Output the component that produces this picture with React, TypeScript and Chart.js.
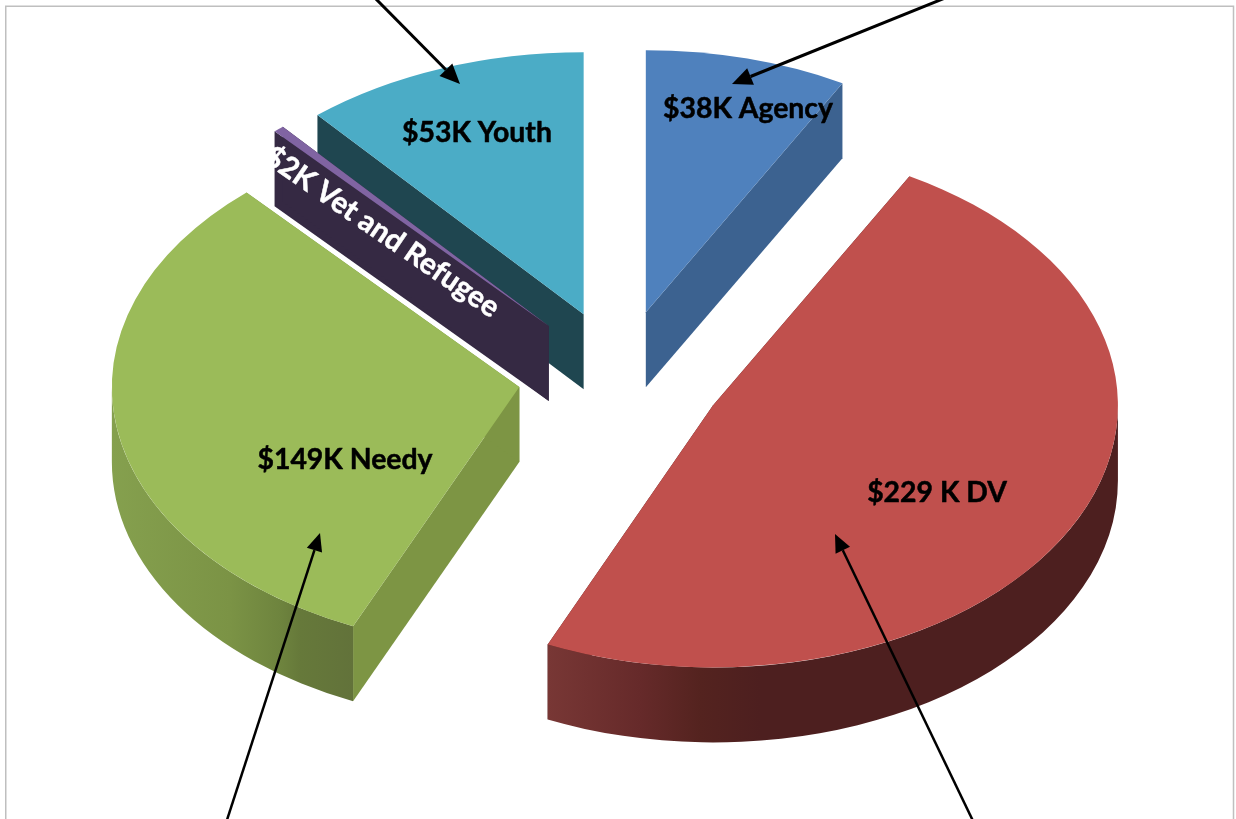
import React, { useEffect, useRef } from "react";
import { Chart, registerables } from "chart.js";

Chart.register(...registerables);

const categories = ["$38K Agency", "$229 K DV", "$149K Needy", "$2K Vet and Refugee", "$53K Youth"];
const amounts = [38, 229, 149, 2, 53];
const faceColors = ["#4f81bd", "#c0504d", "#9bbb59", "#8064a2", "#4bacc6"];
const cutColors = ["#3c6290", "#4d1f1f", "#7d9544", "#352943", "#1f4650"];

const SQUASH = 0.647;
const DEPTH = 75;
const EXPLODE = 105;
const paintOrder = [0, 4, 3, 2, 1];
const nudges = [
  [0.5, 3],
  [0, 0],
  [4, 1.5],
  [-1, 2],
  [1, 3],
];
const widen = [1, 1, 1.006, 1.011, 1.012];

const wallStops: Record<number, [number, string][]> = {
  1: [[548, "#783735"], [640, "#662a2a"], [700, "#54231f"], [760, "#4d1f1f"], [1118, "#4d1f1f"]],
  2: [[112, "#85a04e"], [230, "#7b9345"], [280, "#6e843e"], [300, "#66793a"], [355, "#62723a"]],
};

const labelSpots = [
  { x: 748, y: 109, angle: 0, color: "#000", size: 28.4 },
  { x: 937, y: 493, angle: 0, color: "#000", size: 28.4 },
  { x: 345, y: 460, angle: 0, color: "#000", size: 28.4 },
  { x: 382, y: 232, angle: 34.5, color: "#fff", size: 29.6 },
  { x: 477, y: 133, angle: 0, color: "#000", size: 28.4 },
];

const arrows = [
  { from: [373, -4], to: [460, 84], width: 3, len: 20, half: 9 },
  { from: [950, -4], to: [732, 84], width: 3, len: 20, half: 9 },
  { from: [226, 823], to: [320, 533], width: 2.5, len: 18, half: 8 },
  { from: [974, 823], to: [835, 534], width: 2.5, len: 18, half: 8 },
];

const pie3d = {
  id: "pie3d",
  beforeDatasetDraw(chart: any) {
    const ctx = chart.ctx;
    const arcs = chart.getDatasetMeta(0).data;
    paintOrder.forEach((i) => {
      const arc = arcs[i];
      const { x, y, startAngle, endAngle, outerRadius: R } = arc;
      const mid = (startAngle + endAngle) / 2;
      const px = x + Math.cos(mid) * EXPLODE + nudges[i][0];
      const py = y + Math.sin(mid) * EXPLODE * SQUASH + nudges[i][1];
      const rx = R * widen[i];
      const ry = R * SQUASH;

      // straight cut walls
      ctx.fillStyle = cutColors[i];
      [startAngle, endAngle].forEach((a: number) => {
        const ex = px + Math.cos(a) * rx;
        const ey = py + Math.sin(a) * ry;
        ctx.beginPath();
        ctx.moveTo(px, py);
        ctx.lineTo(ex, ey);
        ctx.lineTo(ex, ey + DEPTH);
        ctx.lineTo(px, py + DEPTH);
        ctx.closePath();
        ctx.fill();
      });

      // curved outer wall, only the part that faces the viewer
      const a0 = Math.max(startAngle, 0);
      const a1 = Math.min(endAngle, Math.PI);
      if (a1 > a0 && wallStops[i]) {
        const stops = wallStops[i];
        const first = stops[0][0];
        const last = stops[stops.length - 1][0];
        const g = ctx.createLinearGradient(first, 0, last, 0);
        stops.forEach(([sx, c]) => g.addColorStop((sx - first) / (last - first), c));
        ctx.fillStyle = g;
        ctx.beginPath();
        ctx.ellipse(px, py, rx, ry, 0, a0, a1);
        ctx.ellipse(px, py + DEPTH, rx, ry, 0, a1, a0, true);
        ctx.closePath();
        ctx.fill();
      }

      // top face: the chart's own arc element, squashed and moved out
      ctx.save();
      ctx.translate(px, py);
      ctx.scale(widen[i], SQUASH);
      ctx.translate(-x, -y);
      arc.draw(ctx);
      ctx.restore();
    });
    return false;
  },
  afterDraw(chart: any) {
    const ctx = chart.ctx;
    ctx.save();
    // frame
    ctx.strokeStyle = "#bfbfbf";
    ctx.lineWidth = 1.5;
    ctx.beginPath();
    ctx.moveTo(5.75, 825);
    ctx.lineTo(5.75, 6.25);
    ctx.lineTo(1233.5, 6.25);
    ctx.lineTo(1233.5, 825);
    ctx.stroke();

    // labels
    ctx.textAlign = "center";
    ctx.textBaseline = "middle";
    ctx.lineJoin = "round";
    chart.data.labels.forEach((text: string, i: number) => {
      const s = labelSpots[i];
      ctx.save();
      ctx.translate(s.x, s.y);
      ctx.rotate((s.angle * Math.PI) / 180);
      ctx.font = `bold ${s.size}px Lato`;
      ctx.fillStyle = s.color;
      ctx.strokeStyle = s.color;
      ctx.lineWidth = 0.5;
      ctx.strokeText(text, 0, 0);
      ctx.fillText(text, 0, 0);
      ctx.restore();
    });

    // arrows
    ctx.strokeStyle = "#000";
    ctx.fillStyle = "#000";
    arrows.forEach(({ from, to, width, len, half }) => {
      const a = Math.atan2(to[1] - from[1], to[0] - from[0]);
      const bx = to[0] - Math.cos(a) * len;
      const by = to[1] - Math.sin(a) * len;
      ctx.lineWidth = width;
      ctx.beginPath();
      ctx.moveTo(from[0], from[1]);
      ctx.lineTo(bx, by);
      ctx.stroke();
      ctx.beginPath();
      ctx.moveTo(to[0], to[1]);
      ctx.lineTo(bx - Math.sin(a) * half, by + Math.cos(a) * half);
      ctx.lineTo(bx + Math.sin(a) * half, by - Math.cos(a) * half);
      ctx.closePath();
      ctx.fill();
    });
    ctx.restore();
  },
};

export default function App() {
  const ref = useRef<HTMLCanvasElement>(null);
  useEffect(() => {
    const chart = new Chart(ref.current as HTMLCanvasElement, {
      type: "pie",
      data: {
        labels: categories,
        datasets: [{ data: amounts, backgroundColor: faceColors, borderWidth: 0 }],
      },
      options: {
        animation: false,
        responsive: false,
        radius: 405,
        layout: { padding: { left: 2, bottom: 69 } },
        plugins: { legend: { display: false }, tooltip: { enabled: false } },
      } as any,
      plugins: [pie3d],
    });
    return () => chart.destroy();
  }, []);
  return (
    <canvas
      ref={ref}
      width={1236}
      height={819}
      style={{ position: "fixed", left: 0, top: 0, display: "block", background: "#fff" }}
    />
  );
}
